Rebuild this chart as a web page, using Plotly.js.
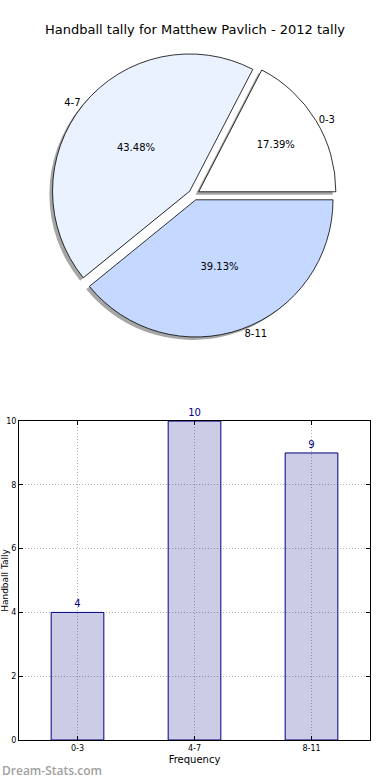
<!DOCTYPE html>
<html>
<head>
<meta charset="utf-8">
<script src="https://cdn.plot.ly/plotly-3.0.1.min.js"></script>
<style>html,body{margin:0;padding:0;background:#fff;}#chart{width:390px;height:780px;}</style>
</head>
<body>
<div id="chart"></div>
<script>
var categories = ["0-3", "4-7", "8-11"];
var tallies = [4, 10, 9];
var sliceColors = ["#FFFFFF", "#EAF1FF", "#C5D8FF"];
var yTicks = [0, 2, 4, 6, 8, 10];
var chartTitle = "Handball tally for Matthew Pavlich - 2012 tally";
var xTitle = "Frequency";
var yTitle = "Handball Tally";
var watermark = "Dream-Stats.com";

var FONT = "DejaVu Sans, Arial, sans-serif";
var pieX = [0.092, 0.905];
var pieY = [0.544, 0.930];
var pulls = [0.04, 0.04, 0.04];
var total = tallies.reduce(function (a, b) { return a + b; }, 0);
var rot = 90 - 360 * tallies[0] / total;

var shadow = {
  type: "pie", labels: categories, values: tallies, sort: false,
  direction: "counterclockwise", rotation: rot, pull: pulls,
  domain: {x: [pieX[0] - 0.009, pieX[1] - 0.009], y: [pieY[0] - 0.004, pieY[1] - 0.004]},
  marker: {colors: ["rgba(0,0,0,0.35)", "rgba(0,0,0,0.35)", "rgba(0,0,0,0.35)"], line: {width: 0}},
  textinfo: "none", hoverinfo: "skip", showlegend: false
};
var mainPie = {
  type: "pie", labels: categories, values: tallies, sort: false,
  direction: "counterclockwise", rotation: rot, pull: pulls,
  domain: {x: pieX, y: pieY},
  marker: {colors: sliceColors, line: {color: "#000", width: 0.8}},
  texttemplate: "%{percent:.2%}", textposition: "inside",
  insidetextorientation: "horizontal",
  insidetextfont: {family: FONT, size: 10, color: "#000"},
  showlegend: false
};
var labelPie = {
  type: "pie", labels: categories, values: tallies, sort: false,
  direction: "counterclockwise", rotation: rot, pull: pulls,
  domain: {x: pieX, y: pieY},
  marker: {colors: ["rgba(0,0,0,0)", "rgba(0,0,0,0)", "rgba(0,0,0,0)"], line: {width: 0}},
  textinfo: "label", textposition: "outside",
  outsidetextfont: {family: FONT, size: 10, color: "#000"},
  hoverinfo: "skip", showlegend: false
};
var bars = {
  type: "bar", x: categories, y: tallies, width: 0.45,
  marker: {color: "rgba(0,0,128,0.2)", line: {color: "#000080", width: 1}},
  text: tallies.map(String), textposition: "outside", cliponaxis: false,
  textfont: {family: FONT, size: 10, color: "#000080"},
  xaxis: "x", yaxis: "y", showlegend: false
};

var layout = {
  width: 390, height: 780,
  margin: {l: 19, r: 20, t: 0, b: 40},
  paper_bgcolor: "#fff", plot_bgcolor: "#fff",
  font: {family: FONT, color: "#000"},
  title: {text: chartTitle, font: {family: FONT, size: 13, color: "#000"}, x: 0.5, xanchor: "center", y: 0.962, yanchor: "middle"},
  xaxis: {
    domain: [0, 1], range: [-0.5, 2.5], type: "category",
    showline: true, mirror: "ticks", linecolor: "#000", linewidth: 1,
    ticks: "inside", ticklen: 4, tickcolor: "#000",
    showgrid: true, gridcolor: "#b0b0b0", griddash: "1px,2px", gridwidth: 1,
    tickfont: {family: FONT, size: 8, color: "#000"},
    title: {text: xTitle, font: {family: FONT, size: 10, color: "#000"}, standoff: 4},
    zeroline: false
  },
  yaxis: {
    domain: [0, 0.431], range: [0, 10], tickvals: yTicks,
    showline: true, mirror: "ticks", linecolor: "#000", linewidth: 1,
    ticks: "inside", ticklen: 4, tickcolor: "#000",
    showgrid: true, gridcolor: "#b0b0b0", griddash: "1px,2px", gridwidth: 1,
    tickfont: {family: FONT, size: 8, color: "#000"},
    title: {text: yTitle, font: {family: FONT, size: 9, color: "#000"}, standoff: 8},
    zeroline: false, automargin: false
  },
  annotations: [{
    text: watermark, xref: "paper", yref: "paper", x: -0.054, y: -0.027,
    xanchor: "left", yanchor: "top", showarrow: false,
    font: {family: "Open Sans, DejaVu Sans, sans-serif", size: 12, color: "#a0a0a0", weight: 600}
  }]
};

Plotly.newPlot("chart", [shadow, mainPie, labelPie, bars], layout, {displayModeBar: false, staticPlot: true});
</script>
</body>
</html>
